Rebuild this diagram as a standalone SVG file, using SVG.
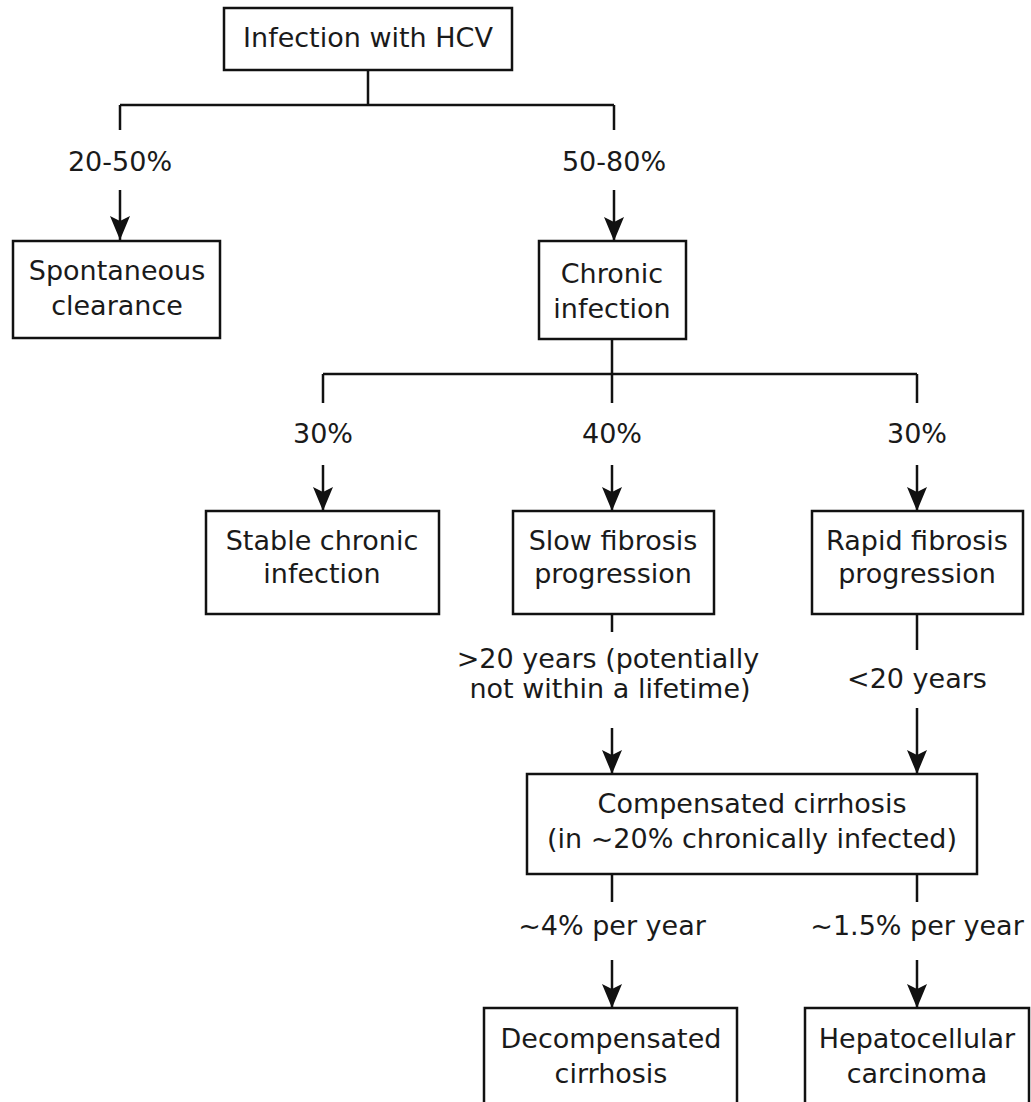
<svg xmlns="http://www.w3.org/2000/svg" width="1031" height="1102" viewBox="0 0 1031 1102">
  <style>
    .box { fill: #ffffff; stroke: #111111; stroke-width: 2.5; }
    .wire { fill: none; stroke: #111111; stroke-width: 2.5; }
    text { font-family: "DejaVu Sans", Verdana, sans-serif; font-size: 27px; fill: #1a1a1a; text-anchor: middle; }
  </style>
  <defs>
    <!-- filled arrowhead, drawn along +x so orient="auto" turns it with the line -->
    <marker id="head" viewBox="0 0 24 20" refX="24" refY="10" markerWidth="24" markerHeight="20" markerUnits="userSpaceOnUse" orient="auto">
      <path d="M0,0 L24,10 L0,20 L5,10 Z" fill="#111111"/>
    </marker>
  </defs>
  <rect width="1031" height="1102" fill="#ffffff"/>

  <!-- connectors -->
  <g id="connectors">
    <!-- root split -->
    <path class="wire" d="M368,70 V105 M120,105 H614 M120,105 V130 M614,105 V130"/>
    <line class="wire" x1="120" y1="190" x2="120" y2="240" marker-end="url(#head)"/>
    <line class="wire" x1="614" y1="190" x2="614" y2="241" marker-end="url(#head)"/>
    <!-- chronic infection split -->
    <path class="wire" d="M612,339 V374 M323,374 H917 M323,374 V403 M612,374 V403 M917,374 V403"/>
    <line class="wire" x1="323" y1="465" x2="323" y2="511" marker-end="url(#head)"/>
    <line class="wire" x1="612" y1="465" x2="612" y2="511" marker-end="url(#head)"/>
    <line class="wire" x1="917" y1="465" x2="917" y2="511" marker-end="url(#head)"/>
    <!-- fibrosis to cirrhosis -->
    <path class="wire" d="M612,614 V632 M917,614 V650"/>
    <line class="wire" x1="612" y1="728" x2="612" y2="774" marker-end="url(#head)"/>
    <line class="wire" x1="917" y1="708" x2="917" y2="774" marker-end="url(#head)"/>
    <!-- cirrhosis outcomes -->
    <path class="wire" d="M612,874 V902 M917,874 V902"/>
    <line class="wire" x1="612" y1="960" x2="612" y2="1008" marker-end="url(#head)"/>
    <line class="wire" x1="917" y1="960" x2="917" y2="1008" marker-end="url(#head)"/>
  </g>

  <!-- edge labels -->
  <g id="labels">
    <text x="120" y="171">20-50%</text>
    <text x="614" y="171">50-80%</text>
    <text x="323" y="443">30%</text>
    <text x="612" y="443">40%</text>
    <text x="917" y="443">30%</text>
    <text x="608" y="668">&gt;20 years (potentially</text>
    <text x="610" y="698">not within a lifetime)</text>
    <text x="917" y="688">&lt;20 years</text>
    <text x="612" y="935">~4% per year</text>
    <text x="917" y="935">~1.5% per year</text>
  </g>

  <!-- nodes -->
  <g id="infection-hcv">
    <rect class="box" x="224" y="8" width="288" height="62"/>
    <text x="368" y="47">Infection with HCV</text>
  </g>
  <g id="spontaneous-clearance">
    <rect class="box" x="13" y="241" width="207" height="97"/>
    <text x="117" y="280">Spontaneous</text>
    <text x="117" y="315">clearance</text>
  </g>
  <g id="chronic-infection">
    <rect class="box" x="539" y="241" width="147" height="98"/>
    <text x="612" y="283">Chronic</text>
    <text x="612" y="318">infection</text>
  </g>
  <g id="stable-chronic">
    <rect class="box" x="206" y="511" width="233" height="103"/>
    <text x="322" y="550">Stable chronic</text>
    <text x="322" y="583">infection</text>
  </g>
  <g id="slow-fibrosis">
    <rect class="box" x="513" y="511" width="201" height="103"/>
    <text x="613" y="550">Slow fibrosis</text>
    <text x="613" y="583">progression</text>
  </g>
  <g id="rapid-fibrosis">
    <rect class="box" x="812" y="511" width="211" height="103"/>
    <text x="917" y="550">Rapid fibrosis</text>
    <text x="917" y="583">progression</text>
  </g>
  <g id="compensated-cirrhosis">
    <rect class="box" x="527" y="774" width="450" height="100"/>
    <text x="752" y="813">Compensated cirrhosis</text>
    <text x="752" y="848">(in ~20% chronically infected)</text>
  </g>
  <g id="decompensated-cirrhosis">
    <rect class="box" x="484" y="1008" width="253" height="110"/>
    <text x="611" y="1048">Decompensated</text>
    <text x="611" y="1083">cirrhosis</text>
  </g>
  <g id="hepatocellular-carcinoma">
    <rect class="box" x="805" y="1008" width="224" height="110"/>
    <text x="917" y="1048">Hepatocellular</text>
    <text x="917" y="1083">carcinoma</text>
  </g>
</svg>
